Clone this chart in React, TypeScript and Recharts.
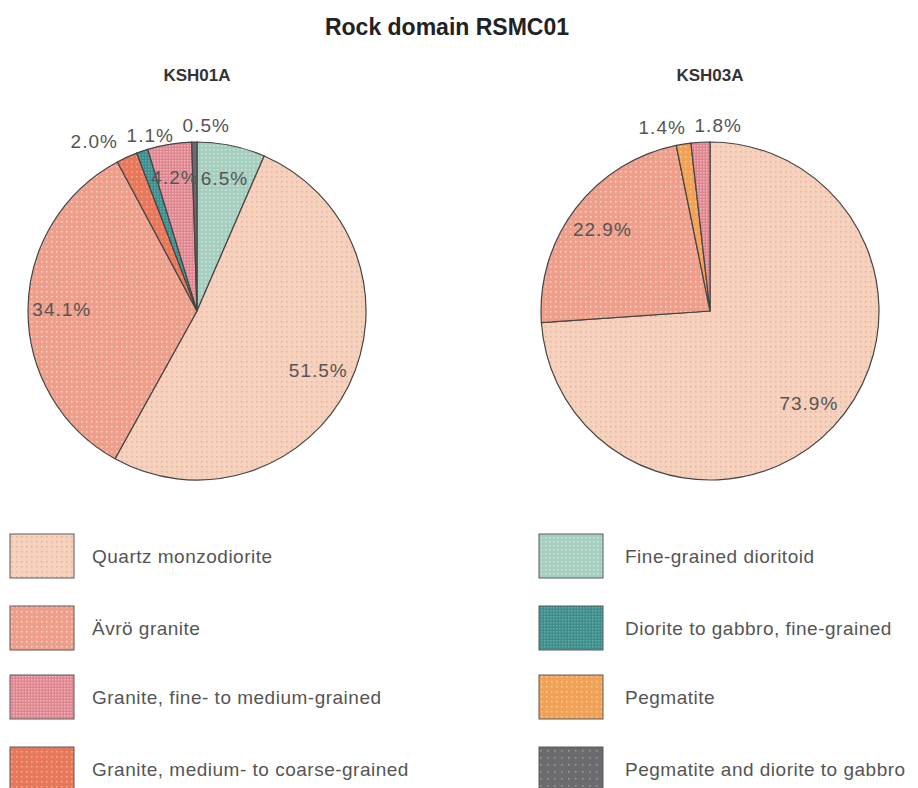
import { PieChart, Pie, Cell } from 'recharts';

// Rock types in legend order (two columns of four)
const ROCK_TYPES = [
  'Quartz monzodiorite',
  'Ävrö granite',
  'Granite, fine- to medium-grained',
  'Granite, medium- to coarse-grained',
  'Fine-grained dioritoid',
  'Diorite to gabbro, fine-grained',
  'Pegmatite',
  'Pegmatite and diorite to gabbro',
];

// Borehole KSH01A, slices clockwise from 12 o'clock (% of length)
const KSH01A_TYPES = [
  'Fine-grained dioritoid',
  'Quartz monzodiorite',
  'Ävrö granite',
  'Granite, medium- to coarse-grained',
  'Diorite to gabbro, fine-grained',
  'Granite, fine- to medium-grained',
  'Pegmatite and diorite to gabbro',
];
const KSH01A_SHARE = [6.5, 51.5, 34.1, 2.0, 1.1, 4.2, 0.5];

// Borehole KSH03A
const KSH03A_TYPES = [
  'Quartz monzodiorite',
  'Ävrö granite',
  'Pegmatite',
  'Granite, fine- to medium-grained',
];
const KSH03A_SHARE = [73.9, 22.9, 1.4, 1.8];

// Dotted fill per rock type: base colour, dot colour, dot spacing
const FILLS: Record<string, { base: string; dot: string; step: number }> = {
  'Quartz monzodiorite': { base: '#F9D0BC', dot: '#C9BEA6', step: 5 },
  'Ävrö granite': { base: '#EE9F8B', dot: '#F8D5C8', step: 5 },
  'Granite, fine- to medium-grained': { base: '#DF8590', dot: '#F0B6B8', step: 3 },
  'Granite, medium- to coarse-grained': { base: '#E8785B', dot: '#F4AE8E', step: 5 },
  'Fine-grained dioritoid': { base: '#A6CEC0', dot: '#D6E6C6', step: 4 },
  'Diorite to gabbro, fine-grained': { base: '#3C8E8D', dot: '#6BAAA8', step: 3 },
  'Pegmatite': { base: '#F2A158', dot: '#F9CC8A', step: 5 },
  'Pegmatite and diorite to gabbro': { base: '#6A6A6F', dot: '#9E9EA2', step: 7 },
};

const FONT = '"Liberation Sans", Arial, Helvetica, sans-serif';
const RADIUS = 169;
const CY = 311;
const RAD = Math.PI / 180;
const SMALL = 3; // slices below this share get an outside label
const OUT_FACTOR = 1.1;
const IN_FACTOR = 0.8;
const LABEL_W = 56;

const patternId = (type: string) => `fill-${ROCK_TYPES.indexOf(type)}`;

function PatternDefs() {
  return (
    <defs>
      {ROCK_TYPES.map((type) => {
        const f = FILLS[type];
        return (
          <pattern
            key={type}
            id={patternId(type)}
            patternUnits="userSpaceOnUse"
            width={f.step}
            height={f.step}
          >
            <rect width={f.step} height={f.step} fill={f.base} />
            <rect x={1} y={1} width={1.5} height={1.5} fill={f.dot} />
          </pattern>
        );
      })}
    </defs>
  );
}

// Outside labels of neighbouring thin slices collide, so spread them
// sideways until they no longer overlap. Returns x per slice index.
function spreadOutside(shares: number[], cx: number) {
  const total = shares.reduce((a, b) => a + b, 0);
  let acc = 0;
  const pts: { i: number; x: number; y: number }[] = [];
  shares.forEach((s, i) => {
    const mid = 90 - (360 * (acc + s / 2)) / total;
    acc += s;
    if (s < SMALL) {
      const r = RADIUS * OUT_FACTOR;
      pts.push({ i, x: cx + r * Math.cos(mid * RAD), y: CY - r * Math.sin(mid * RAD) });
    }
  });
  for (let iter = 0; iter < 30; iter++) {
    pts.sort((a, b) => a.x - b.x);
    for (let k = 0; k < pts.length - 1; k++) {
      const a = pts[k];
      const b = pts[k + 1];
      if (Math.abs(a.y - b.y) < 18 && b.x - a.x < LABEL_W) {
        const m = (a.x + b.x) / 2;
        a.x = m - LABEL_W / 2;
        b.x = m + LABEL_W / 2;
      }
    }
  }
  const out: Record<number, number> = {};
  pts.forEach((p) => (out[p.i] = p.x));
  return out;
}

function makeLabel(shares: number[], chartCx: number) {
  const spread = spreadOutside(shares, chartCx);
  return (props: any) => {
    const { cx, cy, midAngle, outerRadius, index } = props;
    const share = shares[index];
    const small = share < SMALL;
    const r = outerRadius * (small ? OUT_FACTOR : IN_FACTOR);
    const x = small ? spread[index] : cx + r * Math.cos(-midAngle * RAD);
    const y = cy + r * Math.sin(-midAngle * RAD);
    return (
      <text
        x={x}
        y={y}
        textAnchor="middle"
        dominantBaseline="central"
        fill="#555"
        fontSize={19}
        letterSpacing={1}
        fontFamily={FONT}
      >
        {`${share.toFixed(1)}%`}
      </text>
    );
  };
}

function BoreholePie({ types, shares, cx }: { types: string[]; shares: number[]; cx: number }) {
  const data = types.map((type, i) => ({ type, share: shares[i] }));
  return (
    <PieChart width={459} height={520} margin={{ top: 0, right: 0, bottom: 0, left: 0 }}>
      <Pie
        data={data}
        dataKey="share"
        nameKey="type"
        cx={cx}
        cy={CY}
        outerRadius={RADIUS}
        startAngle={90}
        endAngle={-270}
        stroke="#444"
        strokeWidth={1.2}
        label={makeLabel(shares, cx)}
        labelLine={false}
        isAnimationActive={false}
      >
        {data.map((d) => (
          <Cell key={d.type} fill={`url(#${patternId(d.type)})`} />
        ))}
      </Pie>
    </PieChart>
  );
}

function Legend() {
  const rowY = [534, 606, 675, 747];
  return (
    <g>
      {ROCK_TYPES.map((type, i) => {
        const col = Math.floor(i / 4);
        const row = i % 4;
        const sx = col === 0 ? 10 : 539;
        const tx = col === 0 ? 92 : 625;
        const y = rowY[row];
        return (
          <g key={type}>
            <rect
              x={sx}
              y={y}
              width={64}
              height={44}
              fill={`url(#${patternId(type)})`}
              stroke="#5a5a5a"
              strokeWidth={1}
            />
            <text
              x={tx}
              y={y + 22}
              dominantBaseline="central"
              fill="#555"
              fontSize={19}
              letterSpacing={0.5}
              fontFamily={FONT}
            >
              {type}
            </text>
          </g>
        );
      })}
    </g>
  );
}

export default function App() {
  return (
    <div
      style={{
        position: 'absolute',
        left: 0,
        top: 0,
        width: 918,
        height: 788,
        background: '#fff',
        overflow: 'hidden',
      }}
    >
      <svg width={918} height={788} style={{ position: 'absolute', left: 0, top: 0 }}>
        <PatternDefs />
        <text
          x={447}
          y={27}
          textAnchor="middle"
          dominantBaseline="central"
          fontSize={23}
          fontWeight="bold"
          fill="#222"
          fontFamily={FONT}
        >
          Rock domain RSMC01
        </text>
        <text
          x={197}
          y={75}
          textAnchor="middle"
          dominantBaseline="central"
          fontSize={17}
          fontWeight="bold"
          fill="#333"
          fontFamily={FONT}
        >
          KSH01A
        </text>
        <text
          x={710}
          y={75}
          textAnchor="middle"
          dominantBaseline="central"
          fontSize={17}
          fontWeight="bold"
          fill="#333"
          fontFamily={FONT}
        >
          KSH03A
        </text>
        <Legend />
      </svg>
      <div style={{ position: 'absolute', left: 0, top: 0 }}>
        <BoreholePie types={KSH01A_TYPES} shares={KSH01A_SHARE} cx={197} />
      </div>
      <div style={{ position: 'absolute', left: 459, top: 0 }}>
        <BoreholePie types={KSH03A_TYPES} shares={KSH03A_SHARE} cx={251} />
      </div>
    </div>
  );
}
